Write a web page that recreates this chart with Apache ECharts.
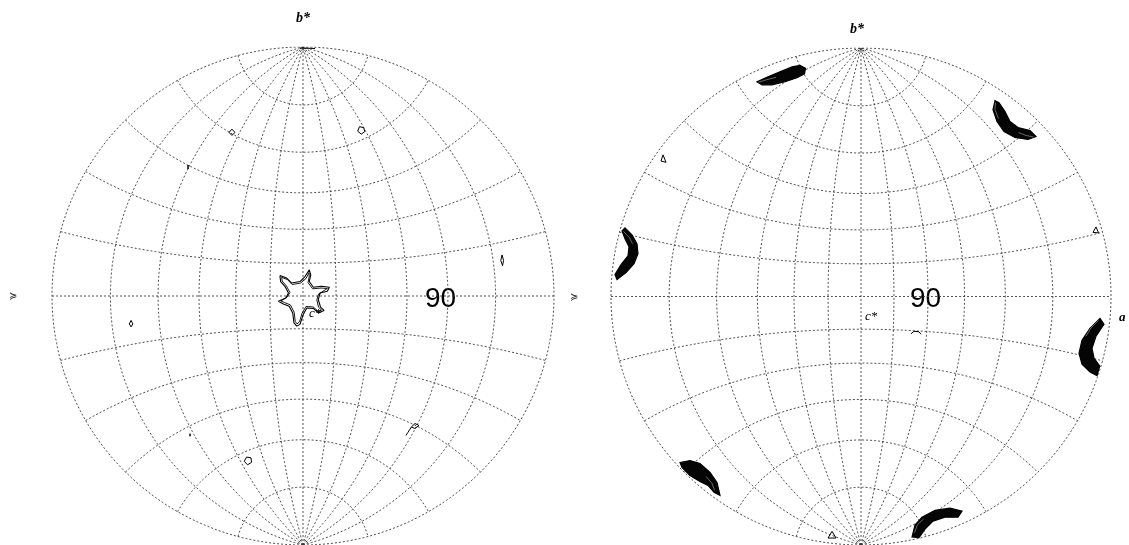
<!DOCTYPE html>
<html><head><meta charset="utf-8">
<script src="https://cdn.jsdelivr.net/npm/echarts@6/dist/echarts.min.js"></script>
<style>html,body{margin:0;padding:0;background:#fff}#c{width:1129px;height:545px}</style>
</head><body><div id="c"></div>
<script>
// Wulff net spacing (degrees)
const netLongitudes = [-90,-75,-60,-45,-30,-15,0,15,30,45,60,75,90];
const netLatitudes = [-75,-60,-45,-30,-15,0,15,30,45,60,75];

// Left pole figure contours (net units, unit circle)
const leftStarOuter = [[-0.092,0.082],[-0.065,0.072],[-0.045,0.052],[-0.012,0.058],[0.008,0.078],[0.025,0.105],[0.031,0.085],[0.025,0.058],[0.041,0.035],[0.074,0.039],[0.105,0.035],[0.097,0.019],[0.068,0.012],[0.061,-0.015],[0.070,-0.045],[0.084,-0.058],[0.061,-0.068],[0.041,-0.050],[0.015,-0.048],[0.001,-0.074],[-0.012,-0.114],[-0.025,-0.121],[-0.036,-0.108],[-0.041,-0.068],[-0.055,-0.041],[-0.078,-0.032],[-0.098,-0.021],[-0.068,-0.008],[-0.058,0.012],[-0.072,0.039],[-0.089,0.058],[-0.092,0.082]];
const leftStarInner = [[-0.085,0.075],[-0.062,0.066],[-0.043,0.046],[-0.010,0.052],[0.012,0.070],[0.024,0.094],[0.025,0.080],[0.020,0.054],[0.038,0.029],[0.072,0.032],[0.097,0.030],[0.090,0.022],[0.062,0.008],[0.055,-0.016],[0.062,-0.045],[0.074,-0.056],[0.060,-0.061],[0.040,-0.044],[0.012,-0.042],[-0.004,-0.070],[-0.014,-0.104],[-0.024,-0.112],[-0.031,-0.102],[-0.035,-0.066],[-0.050,-0.036],[-0.074,-0.026],[-0.088,-0.020],[-0.063,-0.004],[-0.052,0.014],[-0.066,0.040],[-0.083,0.060],[-0.085,0.075]];
const leftSmall = [
  [[-0.283,0.670],[-0.271,0.657],[-0.283,0.645],[-0.295,0.657],[-0.283,0.670]],
  [[-0.458,0.526],[-0.452,0.518],[-0.458,0.510],[-0.464,0.518],[-0.458,0.526]],
  [[0.225,0.680],[0.242,0.676],[0.246,0.660],[0.232,0.650],[0.218,0.662],[0.225,0.680]],
  [[0.793,0.165],[0.799,0.143],[0.795,0.122],[0.788,0.143],[0.793,0.165]],
  [[-0.685,-0.098],[-0.678,-0.112],[-0.685,-0.124],[-0.692,-0.112],[-0.685,-0.098]],
  [[-0.225,-0.647],[-0.207,-0.650],[-0.205,-0.668],[-0.221,-0.678],[-0.234,-0.664],[-0.225,-0.647]],
  [[0.446,-0.512],[0.462,-0.520],[0.446,-0.532],[0.432,-0.526],[0.446,-0.512]],
  [[0.432,-0.526],[0.418,-0.548],[0.410,-0.560]],
  [[-0.450,-0.553],[-0.446,-0.558],[-0.450,-0.563],[-0.454,-0.558],[-0.450,-0.553]],
  [[-0.012,0.996],[0.048,0.994]]
];

// Right pole figure contours (net units, unit circle)
const rightBlobs = [
  [[-0.416,0.864],[-0.372,0.884],[-0.324,0.904],[-0.276,0.924],[-0.244,0.930],[-0.222,0.918],[-0.226,0.896],[-0.256,0.880],[-0.304,0.864],[-0.356,0.852],[-0.396,0.852]],
  [[0.536,0.788],[0.528,0.752],[0.544,0.704],[0.572,0.664],[0.616,0.640],[0.668,0.632],[0.700,0.644],[0.676,0.668],[0.628,0.680],[0.596,0.704],[0.576,0.744],[0.552,0.780]],
  [[-0.944,0.276],[-0.916,0.248],[-0.896,0.212],[-0.892,0.172],[-0.908,0.132],[-0.940,0.096],[-0.976,0.068],[-0.984,0.088],[-0.960,0.128],[-0.932,0.164],[-0.928,0.200],[-0.944,0.232],[-0.956,0.264]],
  [[0.956,-0.088],[0.916,-0.128],[0.884,-0.176],[0.872,-0.228],[0.884,-0.272],[0.916,-0.304],[0.944,-0.318],[0.955,-0.280],[0.932,-0.248],[0.924,-0.208],[0.940,-0.160],[0.972,-0.112]],
  [[-0.724,-0.668],[-0.684,-0.660],[-0.644,-0.672],[-0.604,-0.708],[-0.576,-0.748],[-0.564,-0.800],[-0.588,-0.788],[-0.612,-0.760],[-0.644,-0.744],[-0.684,-0.720],[-0.716,-0.688]],
  [[0.204,-0.968],[0.216,-0.920],[0.244,-0.888],[0.296,-0.860],[0.356,-0.852],[0.404,-0.864],[0.388,-0.888],[0.336,-0.888],[0.288,-0.904],[0.256,-0.936],[0.232,-0.970]]
];
// lighter contour streaks near the blob ends
const rightStreaks = [
  [[-0.410,0.862],[-0.372,0.874],[-0.340,0.882]],
  [[0.538,0.780],[0.536,0.752],[0.550,0.716]],
  [[0.690,0.642],[0.660,0.648],[0.630,0.660]],
  [[-0.950,0.262],[-0.926,0.236],[-0.914,0.212]],
  [[0.950,-0.096],[0.920,-0.126],[0.900,-0.160]],
  [[-0.586,-0.780],[-0.596,-0.752],[-0.620,-0.724]],
  [[0.214,-0.950],[0.226,-0.918],[0.250,-0.896]]
];
const rightSmall = [
  [[-0.792,0.570],[-0.780,0.540],[-0.800,0.545],[-0.792,0.570]],
  [[0.940,0.280],[0.950,0.256],[0.928,0.258],[0.940,0.280]],
  [[0.200,-0.150],[0.212,-0.140],[0.232,-0.142],[0.240,-0.152]],
  [[-0.116,-0.945],[-0.100,-0.972],[-0.132,-0.972],[-0.116,-0.945]]
];

function proj(lonDeg, latDeg){
  const l = lonDeg*Math.PI/180, p = latDeg*Math.PI/180;
  const x = Math.cos(p)*Math.sin(l), y = Math.sin(p), z = Math.cos(p)*Math.cos(l);
  return [x/(1+z), y/(1+z)];
}
const netStyle = {color:'#3a3a3a', width:0.9, type:[2,2]};
function netSeries(gi){
  const s = [];
  netLongitudes.forEach(lon=>{
    const d=[]; for(let p=-90;p<=90;p+=1) d.push(proj(lon,p));
    s.push({type:'line', xAxisIndex:gi, yAxisIndex:gi, data:d, symbol:'none', silent:true, lineStyle:netStyle, z:1});
  });
  netLatitudes.forEach(lat=>{
    const d=[]; for(let l=-90;l<=90;l+=1) d.push(proj(l,lat));
    s.push({type:'line', xAxisIndex:gi, yAxisIndex:gi, data:d, symbol:'none', silent:true, lineStyle:netStyle, z:1});
  });
  return s;
}
function loop(gi, data, w, c, z){
  return {type:'line', xAxisIndex:gi, yAxisIndex:gi, data:data, symbol:'none', silent:true, lineStyle:{color:c||'#000', width:w||1}, z:z||3};
}
const series = [].concat(netSeries(0), netSeries(1));
series.push(loop(0,leftStarOuter,1.1));
series.push(loop(0,leftStarInner,0.9));
leftSmall.forEach(d=>series.push(loop(0,d,1)));
rightSmall.forEach(d=>series.push(loop(1,d,1)));
series.push({
  type:'custom', xAxisIndex:1, yAxisIndex:1, z:4, silent:true,
  data: rightBlobs.map(b=>b[0]),
  renderItem:function(params, api){
    const pts = rightBlobs[params.dataIndex].map(p=>api.coord(p));
    return {type:'polygon', shape:{points:pts}, style:{fill:'#050505', stroke:'#000', lineWidth:1.2}};
  }
});
rightStreaks.forEach(d=>series.push(loop(1,d,0.6,'#aaa',5)));

const axisBase = {type:'value', min:-1, max:1, show:false};
const chart = echarts.init(document.getElementById('c'));
chart.setOption({
  animation:false,
  backgroundColor:'#fff',
  grid:[{left:52, top:47, width:502, height:502},{left:611, top:48, width:500, height:500}],
  xAxis:[Object.assign({gridIndex:0},axisBase),Object.assign({gridIndex:1},axisBase)],
  yAxis:[Object.assign({gridIndex:0},axisBase),Object.assign({gridIndex:1},axisBase)],
  series: series,
  graphic:[
    {type:'text', left:296, top:11, style:{text:'b*', font:'italic bold 14px "Liberation Serif"', fill:'#000'}},
    {type:'text', left:850, top:22, style:{text:'b*', font:'italic bold 14px "Liberation Serif"', fill:'#000'}},
    {type:'text', left:425, top:285, style:{text:'90', font:'28px "Liberation Sans"', fill:'#000'}},
    {type:'text', left:910, top:285, style:{text:'90', font:'28px "Liberation Sans"', fill:'#000'}},
    {type:'text', left:309, top:307, style:{text:'c*', font:'italic 13px "Liberation Serif"', fill:'#000'}},
    {type:'text', left:865, top:310, style:{text:'c*', font:'italic 13px "Liberation Serif"', fill:'#000'}},
    {type:'text', left:1119, top:311, style:{text:'a', font:'italic bold 13px "Liberation Serif"', fill:'#000'}},
    {type:'text', left:9, top:291, style:{text:'≽', font:'10px "DejaVu Sans"', fill:'#333'}},
    {type:'text', left:570, top:292, style:{text:'≽', font:'10px "DejaVu Sans"', fill:'#333'}}
  ]
});
</script></body></html>
